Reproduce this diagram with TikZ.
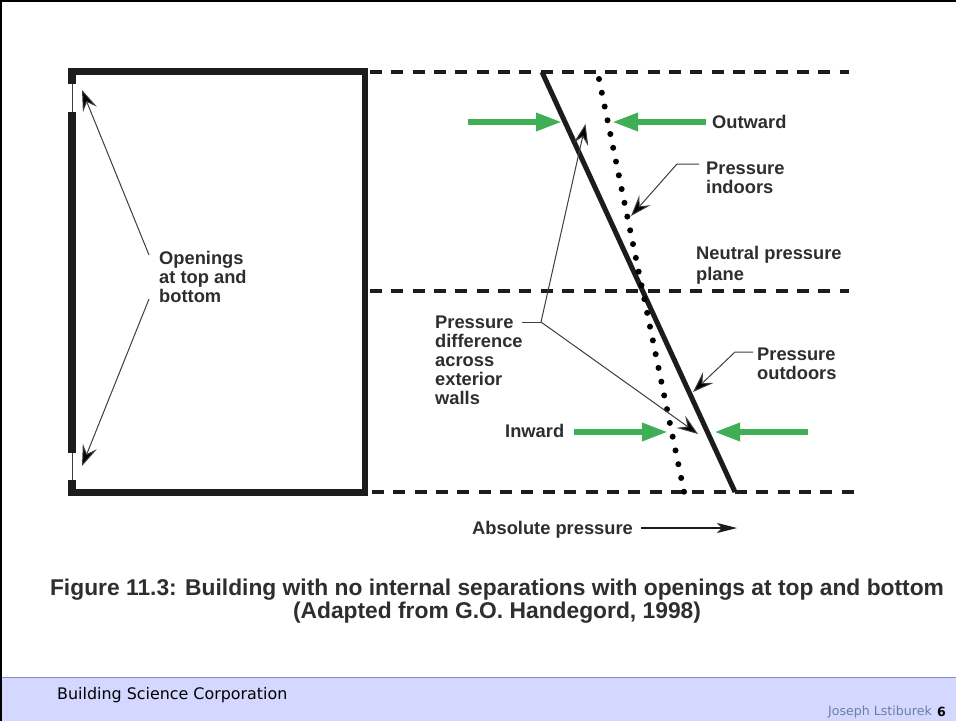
\documentclass[tikz,border=0pt]{standalone}
\usepackage{fontspec}
\setmainfont{Liberation Sans}
\newfontfamily\footfont{DejaVu Sans}
\usetikzlibrary{arrows.meta}
\definecolor{ink}{HTML}{2E2E2E}
\definecolor{wallc}{HTML}{1C1C1C}
\definecolor{greenc}{HTML}{3FAE55}
\definecolor{footc}{HTML}{D4D7FF}
\definecolor{footl}{HTML}{8A8AC4}
\definecolor{namec}{HTML}{6A7FA8}
\tikzset{
  lab/.style={font=\fontsize{18.3}{19}\selectfont\bfseries, text=ink, align=left, anchor=west, inner sep=0pt},
  wallf/.style={fill=wallc, draw=none},
  levelline/.style={draw=wallc, line width=4pt, dash pattern=on 12pt off 9.35pt},
  thinl/.style={draw=wallc!85, line width=1pt},
  lead/.style={thinl, -{Stealth[length=21pt,width=15pt,inset=8pt,fill=black]}},
  gar/.style={draw=greenc, line width=6pt, -{Stealth[length=26pt,width=17pt,inset=0pt,fill=greenc]}},
}
\begin{document}
\begin{tikzpicture}[x=1pt,y=-1pt]
\useasboundingbox (0,0) rectangle (956,721);
\fill[white] (0,0) rectangle (956,721);
% frame
\fill[footc] (0,677) rectangle (956,721);
\draw[footl, line width=1pt] (0,677) -- (956,677);
\fill[black] (0,0) rectangle (956,2);
\fill[black] (0,0) rectangle (2,721);
% building
\fill[wallf] (68,68) rectangle (368,75);
\fill[wallf] (362,68) rectangle (368,496);
\fill[wallf] (68,489) rectangle (368,496);
\fill[wallf] (68,68) rectangle (76,84);
\fill[wallf] (68,480) rectangle (76,496);
\fill[wallf] (68,112) rectangle (76,453);
\draw[thinl] (72,84) -- (72,112);
\draw[thinl] (72,453) -- (72,480);
% dashed levels
\coordinate (t0) at (370,72); \coordinate (t1) at (849,72);
\coordinate (m0) at (370,291); \coordinate (m1) at (849,291);
\coordinate (b0) at (372,492); \coordinate (b1) at (856,492);
\draw[levelline] (t0) -- (t1);
\draw[levelline] (m0) -- (m1);
\draw[levelline] (b0) -- (b1);
% pressure lines
\coordinate (po0) at (542,72); \coordinate (po1) at (735,492);
\draw[draw=wallc, line width=5pt] (po0) -- (po1);
\foreach \i in {0,...,30}{
  \fill[black] ({599+\i*85/30},{79+\i*412.7/30}) circle (3pt);
}
% labels
\node[lab] (open) at (159,277) {Openings\\at top and\\bottom};
\node[lab] (outw) at (712,122) {Outward};
\node[lab] (pin) at (706,177.5) {Pressure\\indoors};
\node[lab, font=\fontsize{18.3}{21}\selectfont\bfseries] (npp) at (696,265.5) {Neutral pressure\\plane};
\node[lab] (pd) at (435,360) {Pressure\\difference\\across\\exterior\\walls};
\node[lab] (pout) at (757,363.5) {Pressure\\outdoors};
\node[lab] (inw) at (505,431) {Inward};
\node[lab] (abs) at (472,530) {Absolute pressure};
\node[font=\fontsize{22.8}{23}\selectfont\bfseries, text=ink, align=center, inner sep=0pt] (cap) at (497,601.5)
  {Figure 11.3: Building with no internal separations with openings at top and bottom\\(Adapted from G.O. Handegord, 1998)};
% opening arrows
\coordinate (o1) at (149,255); \coordinate (o1t) at (82,90);
\coordinate (o2) at (149,299); \coordinate (o2t) at (82,466);
\draw[lead] (o1) -- (o1t);
\draw[lead] (o2) -- (o2t);
% leaders
\coordinate (i0) at (699,164); \coordinate (i1) at (677,164); \coordinate (i2) at (631,216);
\draw[lead] (i0) -- (i1) -- (i2);
\coordinate (x0) at (753,352); \coordinate (x1) at (735,352); \coordinate (x2) at (693,392);
\draw[lead] (x0) -- (x1) -- (x2);
\coordinate (d0) at (522,322); \coordinate (d1) at (541,322);
\coordinate (d2) at (585.5,124); \coordinate (d3) at (698,434);
\draw[thinl] (d0) -- (d1);
\draw[lead] (d1) -- (d2);
\draw[lead] (d1) -- (d3);
% green arrows
\coordinate (g1a) at (468,122); \coordinate (g1b) at (562,122);
\coordinate (g2a) at (706,122); \coordinate (g2b) at (612,122);
\coordinate (g3a) at (574,432); \coordinate (g3b) at (668,432);
\coordinate (g4a) at (808,432); \coordinate (g4b) at (714,432);
\draw[gar] (g1a) -- (g1b);
\draw[gar] (g2a) -- (g2b);
\draw[gar] (g3a) -- (g3b);
\draw[gar] (g4a) -- (g4b);
% absolute arrow
\coordinate (ab0) at (641,528); \coordinate (ab1) at (737,528);
\draw[draw=wallc, line width=1.6pt, -{Stealth[length=20pt,width=10pt,inset=5pt]}] (ab0) -- (ab1);
% footer
\node[font=\footfont\fontsize{15.9}{18}\selectfont, text=black, anchor=west, inner sep=0pt] (bsc) at (57,695) {Building Science Corporation};
\node[font=\footfont\fontsize{12.6}{14}\selectfont, text=namec, anchor=east, inner sep=0pt] (js) at (932,712) {Joseph Lstiburek};
\node[font=\footfont\bfseries\fontsize{12.6}{14}\selectfont, text=black, anchor=east, inner sep=0pt] (pg) at (946,712) {6};
\end{tikzpicture}
\end{document}
